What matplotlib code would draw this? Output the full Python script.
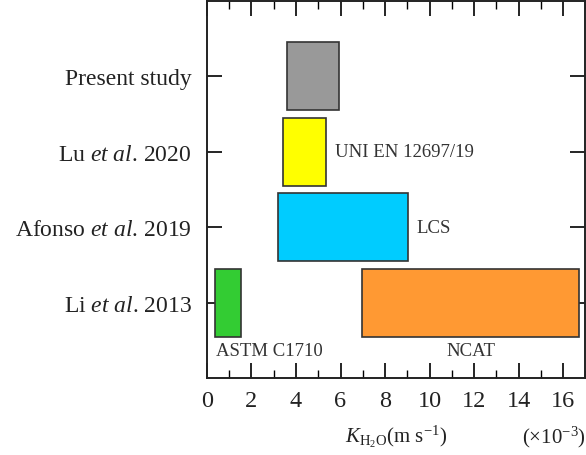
import matplotlib
matplotlib.use("Agg")
import matplotlib.pyplot as plt
from matplotlib.ticker import MultipleLocator

plt.rcParams['font.family'] = ['Liberation Serif', 'DejaVu Serif']
plt.rcParams['mathtext.fontset'] = 'custom'
plt.rcParams['mathtext.rm'] = 'Liberation Serif'
plt.rcParams['mathtext.it'] = 'Liberation Serif:italic'

# Data (K_H2O ranges, x10^-3 m/s)
studies = ["Present study", r"Lu $\mathit{et\ al}$. 2020",
           r"Afonso $\mathit{et\ al}$. 2019", r"Li $\mathit{et\ al}$. 2013"]
y_pos = [3, 2, 1, 0]
bar_study = [0, 1, 2, 3, 3]          # index into studies
bar_start = [3.61, 3.42, 3.21, 0.36, 6.98]
bar_end = [5.92, 5.33, 9.03, 1.51, 16.70]
bar_colors = ["#999999", "#ffff00", "#00ccff", "#33cc33", "#ff9933"]
bar_labels = ["", "UNI EN 12697/19", "LCS", "ASTM C1710", "NCAT"]

fig = plt.figure(figsize=(5.86, 4.56), dpi=100)
ax = fig.add_axes([0.3532, 0.1689, 0.9988 - 0.3532, 0.9956 - 0.1689])

for i in range(len(bar_start)):
    y = y_pos[bar_study[i]]
    ax.barh(y, bar_end[i] - bar_start[i], left=bar_start[i], height=0.9,
            color=bar_colors[i], edgecolor="#333333", linewidth=1.2, zorder=2)

# labels
ax.text(bar_end[1] + 0.42, y_pos[1], bar_labels[1], ha="left", va="center",
        fontsize=13.5, color="#333333")
ax.text(bar_end[2] + 0.40, y_pos[2], bar_labels[2], ha="left", va="center",
        fontsize=13.5, color="#333333")
ax.text(bar_start[3] + 0.04, y_pos[3] - 0.64, bar_labels[3], ha="left", va="center",
        fontsize=13.5, color="#333333")
ax.text((bar_start[4] + bar_end[4]) / 2, y_pos[3] - 0.64, bar_labels[4], ha="center",
        va="center", fontsize=13.5, color="#333333")

ax.set_xlim(0, 17)
ax.set_ylim(-1, 4)
ax.set_yticks(y_pos)
ax.set_yticklabels(studies, fontsize=17, color="#222222")
ax.xaxis.set_major_locator(MultipleLocator(2))
ax.xaxis.set_minor_locator(MultipleLocator(1))
ax.tick_params(axis='x', which='major', direction='in', length=11, width=1.2,
               top=True, bottom=True, labelsize=17.5, pad=9, labelcolor="#222222")
ax.tick_params(axis='x', which='minor', direction='in', length=6, width=1.0,
               top=True, bottom=True)
ax.tick_params(axis='y', which='major', direction='in', length=11, width=1.2,
               left=True, right=True, pad=11)
for s in ax.spines.values():
    s.set_linewidth(1.4)
    s.set_color("#222222")

fig.text(396 / 586, 1 - 437 / 456, r"$K_{\mathregular{H_2O}}$(m s$^{-1}$)",
         ha="center", va="center", fontsize=15, color="#222222")
fig.text(0.999, 1 - 437 / 456, r"($\times$10$^{-3}$)", ha="right", va="center",
         fontsize=15, color="#222222")

fig.savefig("out.png", dpi=100)
